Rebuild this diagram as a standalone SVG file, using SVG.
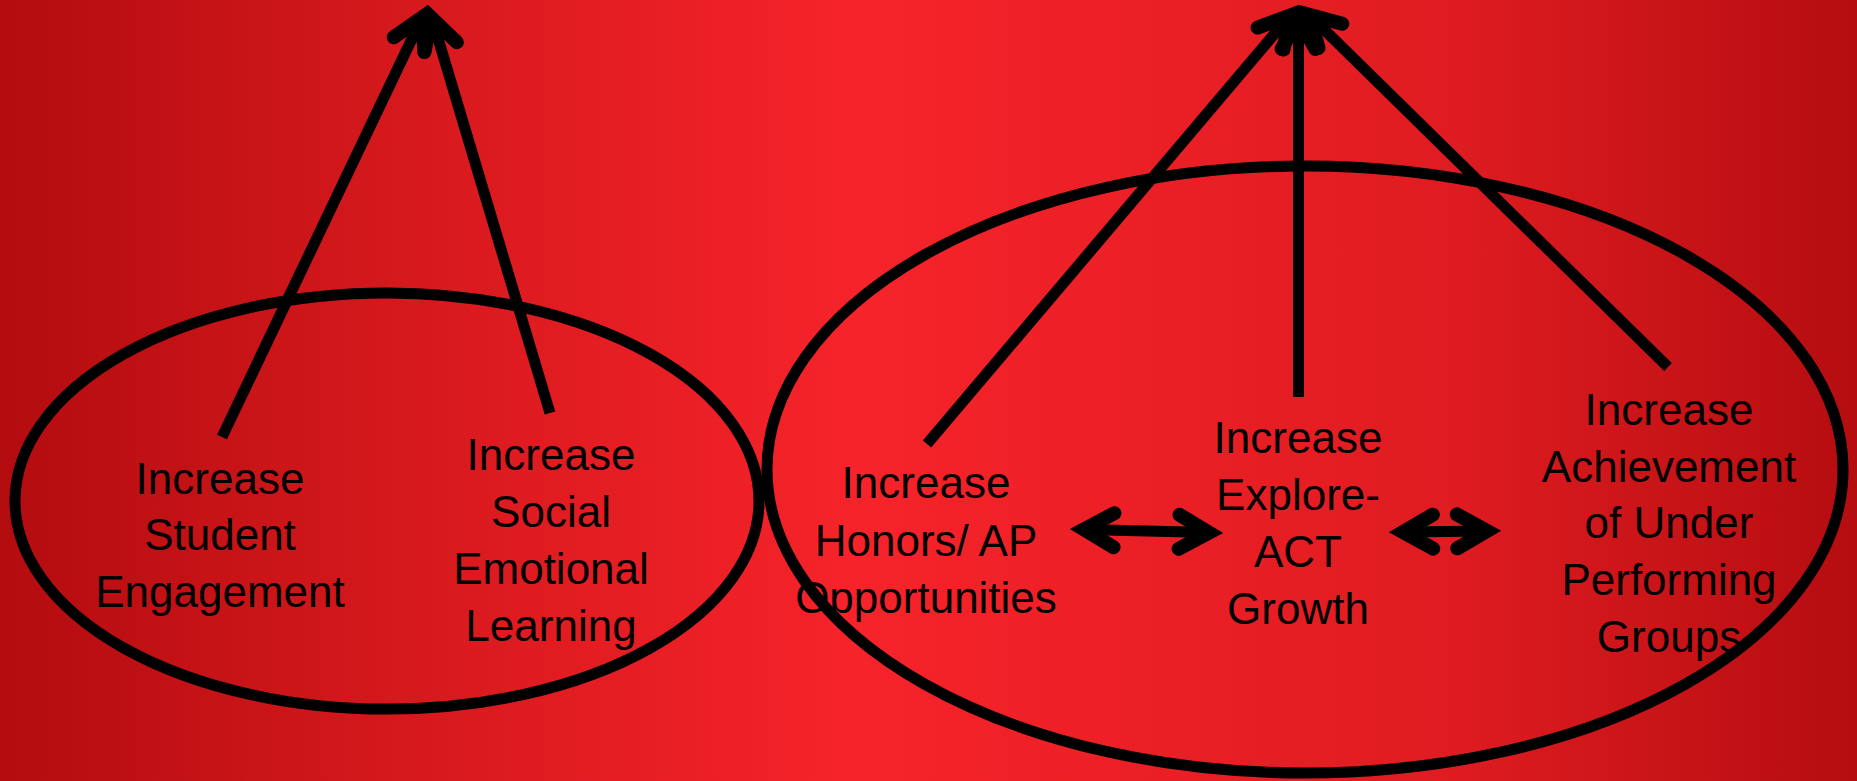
<svg xmlns="http://www.w3.org/2000/svg" width="1857" height="781" viewBox="0 0 1857 781">
  <defs>
    <linearGradient id="bg" x1="0" y1="0" x2="1" y2="0">
      <stop offset="0" stop-color="#b30c0f"/>
      <stop offset="0.2" stop-color="#d3181c"/>
      <stop offset="0.46" stop-color="#f6232a"/>
      <stop offset="0.78" stop-color="#df1c21"/>
      <stop offset="1" stop-color="#b50d10"/>
    </linearGradient>
    <marker id="head" markerUnits="userSpaceOnUse" orient="auto-start-reverse" viewBox="-40 -30 50 60" refX="0" refY="0" markerWidth="50" markerHeight="60" overflow="visible">
      <path d="M -30 -17 L 0 0 L -30 17" fill="none" stroke="#000" stroke-width="14" stroke-linecap="round" stroke-linejoin="miter"/>
    </marker>
    <style>
      .ring { fill: none; stroke: #000; stroke-width: 11; }
      .conn { fill: none; stroke: #000; stroke-width: 11; stroke-linecap: butt; marker-end: url(#head); }
      .both { marker-start: url(#head); }
      .lbl { font-family: 'Liberation Sans', Arial, sans-serif; font-size: 44px; fill: #000; text-anchor: middle; }
    </style>
  </defs>

  <rect x="0" y="0" width="1857" height="781" fill="url(#bg)"/>

  <g id="group-left">
    <ellipse class="ring" cx="387" cy="501" rx="372" ry="208"/>
  </g>
  <g id="group-right">
    <ellipse class="ring" cx="1305" cy="469.5" rx="538" ry="303.5"/>
  </g>

  <g id="node-student-engagement">
    <text class="lbl"><tspan x="220" y="494">Increase</tspan><tspan x="220" y="550">Student</tspan><tspan x="220" y="607">Engagement</tspan></text>
  </g>
  <g id="node-social-emotional">
    <text class="lbl"><tspan x="551" y="470">Increase</tspan><tspan x="551" y="527">Social</tspan><tspan x="551" y="584">Emotional</tspan><tspan x="551" y="641">Learning</tspan></text>
  </g>
  <g id="node-honors-ap">
    <text class="lbl"><tspan x="926" y="498">Increase</tspan><tspan x="926" y="556">Honors/ AP</tspan><tspan x="926" y="613">Opportunities</tspan></text>
  </g>
  <g id="node-explore-act">
    <text class="lbl"><tspan x="1298" y="453">Increase</tspan><tspan x="1298" y="510">Explore-</tspan><tspan x="1298" y="567">ACT</tspan><tspan x="1298" y="624">Growth</tspan></text>
  </g>
  <g id="node-achievement">
    <text class="lbl"><tspan x="1669" y="425">Increase</tspan><tspan x="1669" y="482">Achievement</tspan><tspan x="1669" y="538">of Under</tspan><tspan x="1669" y="595">Performing</tspan><tspan x="1669" y="652">Groups</tspan></text>
  </g>

  <g id="connectors">
    <line class="conn" x1="222" y1="437" x2="422" y2="17.6"/>
    <line class="conn" x1="550" y1="413" x2="432" y2="18.4"/>
    <line class="conn" x1="927" y1="444" x2="1289.9" y2="15.7"/>
    <line class="conn" x1="1298.5" y1="397" x2="1298.5" y2="19"/>
    <line class="conn" x1="1668" y1="367" x2="1309" y2="14.8"/>
    <line class="conn both" x1="1084" y1="529.4" x2="1209" y2="532.6"/>
    <line class="conn both" x1="1403" y1="532" x2="1487" y2="531"/>
  </g>
</svg>
